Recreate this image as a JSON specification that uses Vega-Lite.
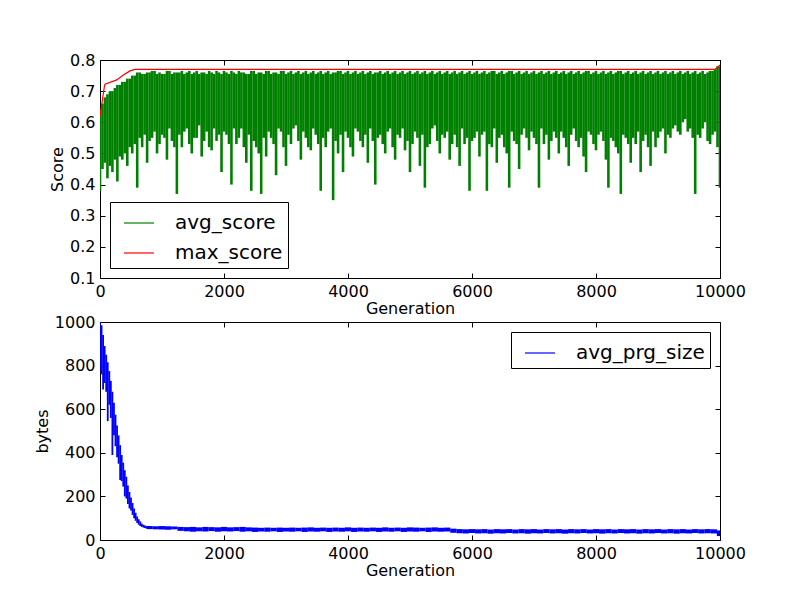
{
  "$schema": "https://vega.github.io/schema/vega-lite/v6.json",
  "background": "white",
  "padding": {"left": 33, "top": 51, "right": 60, "bottom": 10},
  "bounds": "flush",
  "spacing": 44,
  "datasets": {
    "score": [
      {"gen":0,"lo":0.38,"hi":0.64},{"gen":40,"lo":0.45,"hi":0.66},{"gen":80,"lo":0.47,"hi":0.68},{"gen":120,"lo":0.42,"hi":0.69},{"gen":160,"lo":0.46,"hi":0.7},{"gen":200,"lo":0.44,"hi":0.7},{"gen":240,"lo":0.48,"hi":0.71},{"gen":280,"lo":0.41,"hi":0.72},{"gen":320,"lo":0.49,"hi":0.72},{"gen":360,"lo":0.48,"hi":0.73},
      {"gen":400,"lo":0.5,"hi":0.73},{"gen":440,"lo":0.46,"hi":0.74},{"gen":480,"lo":0.52,"hi":0.74},{"gen":520,"lo":0.5,"hi":0.75},{"gen":560,"lo":0.53,"hi":0.75},{"gen":600,"lo":0.39,"hi":0.76},{"gen":640,"lo":0.55,"hi":0.76},{"gen":680,"lo":0.52,"hi":0.755},{"gen":720,"lo":0.56,"hi":0.755},{"gen":760,"lo":0.47,"hi":0.76},
      {"gen":800,"lo":0.54,"hi":0.76},{"gen":840,"lo":0.55,"hi":0.765},{"gen":880,"lo":0.57,"hi":0.765},{"gen":920,"lo":0.5,"hi":0.755},{"gen":960,"lo":0.53,"hi":0.76},{"gen":1000,"lo":0.56,"hi":0.755},{"gen":1040,"lo":0.55,"hi":0.755},{"gen":1080,"lo":0.48,"hi":0.765},{"gen":1120,"lo":0.58,"hi":0.765},{"gen":1160,"lo":0.54,"hi":0.755},
      {"gen":1200,"lo":0.52,"hi":0.76},{"gen":1240,"lo":0.37,"hi":0.76},{"gen":1280,"lo":0.56,"hi":0.76},{"gen":1320,"lo":0.52,"hi":0.765},{"gen":1360,"lo":0.57,"hi":0.755},{"gen":1400,"lo":0.58,"hi":0.76},{"gen":1440,"lo":0.53,"hi":0.765},{"gen":1480,"lo":0.5,"hi":0.755},{"gen":1520,"lo":0.55,"hi":0.76},{"gen":1560,"lo":0.55,"hi":0.765},
      {"gen":1600,"lo":0.59,"hi":0.755},{"gen":1640,"lo":0.49,"hi":0.76},{"gen":1680,"lo":0.54,"hi":0.76},{"gen":1720,"lo":0.57,"hi":0.755},{"gen":1760,"lo":0.52,"hi":0.765},{"gen":1800,"lo":0.51,"hi":0.76},{"gen":1840,"lo":0.58,"hi":0.755},{"gen":1880,"lo":0.54,"hi":0.765},{"gen":1920,"lo":0.56,"hi":0.76},{"gen":1960,"lo":0.44,"hi":0.755},
      {"gen":2000,"lo":0.57,"hi":0.765},{"gen":2040,"lo":0.56,"hi":0.76},{"gen":2080,"lo":0.53,"hi":0.755},{"gen":2120,"lo":0.4,"hi":0.765},{"gen":2160,"lo":0.58,"hi":0.76},{"gen":2200,"lo":0.53,"hi":0.755},{"gen":2240,"lo":0.55,"hi":0.765},{"gen":2280,"lo":0.58,"hi":0.76},{"gen":2320,"lo":0.52,"hi":0.76},{"gen":2360,"lo":0.47,"hi":0.755},
      {"gen":2400,"lo":0.56,"hi":0.755},{"gen":2440,"lo":0.38,"hi":0.765},{"gen":2480,"lo":0.54,"hi":0.765},{"gen":2520,"lo":0.52,"hi":0.755},{"gen":2560,"lo":0.5,"hi":0.76},{"gen":2600,"lo":0.37,"hi":0.76},{"gen":2640,"lo":0.55,"hi":0.755},{"gen":2680,"lo":0.49,"hi":0.765},{"gen":2720,"lo":0.57,"hi":0.765},{"gen":2760,"lo":0.55,"hi":0.755},
      {"gen":2800,"lo":0.53,"hi":0.76},{"gen":2840,"lo":0.43,"hi":0.76},{"gen":2880,"lo":0.58,"hi":0.755},{"gen":2920,"lo":0.57,"hi":0.765},{"gen":2960,"lo":0.52,"hi":0.765},{"gen":3000,"lo":0.46,"hi":0.755},{"gen":3040,"lo":0.56,"hi":0.76},{"gen":3080,"lo":0.53,"hi":0.765},{"gen":3120,"lo":0.58,"hi":0.755},{"gen":3160,"lo":0.59,"hi":0.76},
      {"gen":3200,"lo":0.54,"hi":0.765},{"gen":3240,"lo":0.48,"hi":0.755},{"gen":3280,"lo":0.57,"hi":0.76},{"gen":3320,"lo":0.55,"hi":0.765},{"gen":3360,"lo":0.52,"hi":0.755},{"gen":3400,"lo":0.51,"hi":0.76},{"gen":3440,"lo":0.58,"hi":0.765},{"gen":3480,"lo":0.56,"hi":0.755},{"gen":3520,"lo":0.53,"hi":0.76},{"gen":3560,"lo":0.38,"hi":0.765},
      {"gen":3600,"lo":0.55,"hi":0.755},{"gen":3640,"lo":0.52,"hi":0.76},{"gen":3680,"lo":0.57,"hi":0.765},{"gen":3720,"lo":0.58,"hi":0.755},{"gen":3760,"lo":0.35,"hi":0.76},{"gen":3800,"lo":0.54,"hi":0.76},{"gen":3840,"lo":0.5,"hi":0.765},{"gen":3880,"lo":0.56,"hi":0.765},{"gen":3920,"lo":0.44,"hi":0.755},{"gen":3960,"lo":0.57,"hi":0.76},
      {"gen":4000,"lo":0.55,"hi":0.765},{"gen":4040,"lo":0.52,"hi":0.755},{"gen":4080,"lo":0.49,"hi":0.76},{"gen":4120,"lo":0.58,"hi":0.765},{"gen":4160,"lo":0.57,"hi":0.755},{"gen":4200,"lo":0.54,"hi":0.76},{"gen":4240,"lo":0.52,"hi":0.765},{"gen":4280,"lo":0.56,"hi":0.755},{"gen":4320,"lo":0.47,"hi":0.76},{"gen":4360,"lo":0.58,"hi":0.765},
      {"gen":4400,"lo":0.54,"hi":0.755},{"gen":4440,"lo":0.4,"hi":0.76},{"gen":4480,"lo":0.55,"hi":0.76},{"gen":4520,"lo":0.56,"hi":0.765},{"gen":4560,"lo":0.53,"hi":0.755},{"gen":4600,"lo":0.5,"hi":0.76},{"gen":4640,"lo":0.57,"hi":0.765},{"gen":4680,"lo":0.58,"hi":0.755},{"gen":4720,"lo":0.52,"hi":0.76},{"gen":4760,"lo":0.48,"hi":0.765},
      {"gen":4800,"lo":0.56,"hi":0.755},{"gen":4840,"lo":0.55,"hi":0.76},{"gen":4880,"lo":0.58,"hi":0.765},{"gen":4920,"lo":0.51,"hi":0.755},{"gen":4960,"lo":0.54,"hi":0.76},{"gen":5000,"lo":0.44,"hi":0.765},{"gen":5040,"lo":0.53,"hi":0.755},{"gen":5080,"lo":0.57,"hi":0.76},{"gen":5120,"lo":0.55,"hi":0.765},{"gen":5160,"lo":0.46,"hi":0.755},
      {"gen":5200,"lo":0.56,"hi":0.76},{"gen":5240,"lo":0.39,"hi":0.765},{"gen":5280,"lo":0.52,"hi":0.755},{"gen":5320,"lo":0.53,"hi":0.76},{"gen":5360,"lo":0.58,"hi":0.765},{"gen":5400,"lo":0.59,"hi":0.755},{"gen":5440,"lo":0.54,"hi":0.76},{"gen":5480,"lo":0.5,"hi":0.765},{"gen":5520,"lo":0.56,"hi":0.755},{"gen":5560,"lo":0.55,"hi":0.76},
      {"gen":5600,"lo":0.57,"hi":0.765},{"gen":5640,"lo":0.48,"hi":0.755},{"gen":5680,"lo":0.53,"hi":0.76},{"gen":5720,"lo":0.56,"hi":0.765},{"gen":5760,"lo":0.52,"hi":0.755},{"gen":5800,"lo":0.46,"hi":0.76},{"gen":5840,"lo":0.58,"hi":0.765},{"gen":5880,"lo":0.53,"hi":0.755},{"gen":5920,"lo":0.55,"hi":0.76},{"gen":5960,"lo":0.38,"hi":0.765},
      {"gen":6000,"lo":0.54,"hi":0.755},{"gen":6040,"lo":0.55,"hi":0.76},{"gen":6080,"lo":0.57,"hi":0.765},{"gen":6120,"lo":0.49,"hi":0.755},{"gen":6160,"lo":0.56,"hi":0.76},{"gen":6200,"lo":0.57,"hi":0.765},{"gen":6240,"lo":0.38,"hi":0.755},{"gen":6280,"lo":0.53,"hi":0.76},{"gen":6320,"lo":0.52,"hi":0.765},{"gen":6360,"lo":0.58,"hi":0.765},
      {"gen":6400,"lo":0.47,"hi":0.755},{"gen":6440,"lo":0.55,"hi":0.76},{"gen":6480,"lo":0.56,"hi":0.765},{"gen":6520,"lo":0.52,"hi":0.755},{"gen":6560,"lo":0.5,"hi":0.76},{"gen":6600,"lo":0.39,"hi":0.765},{"gen":6640,"lo":0.57,"hi":0.765},{"gen":6680,"lo":0.54,"hi":0.755},{"gen":6720,"lo":0.53,"hi":0.76},{"gen":6760,"lo":0.45,"hi":0.765},
      {"gen":6800,"lo":0.56,"hi":0.755},{"gen":6840,"lo":0.58,"hi":0.76},{"gen":6880,"lo":0.55,"hi":0.765},{"gen":6920,"lo":0.51,"hi":0.755},{"gen":6960,"lo":0.57,"hi":0.76},{"gen":7000,"lo":0.55,"hi":0.765},{"gen":7040,"lo":0.53,"hi":0.755},{"gen":7080,"lo":0.39,"hi":0.76},{"gen":7120,"lo":0.58,"hi":0.765},{"gen":7160,"lo":0.53,"hi":0.755},
      {"gen":7200,"lo":0.56,"hi":0.76},{"gen":7240,"lo":0.48,"hi":0.765},{"gen":7280,"lo":0.54,"hi":0.755},{"gen":7320,"lo":0.57,"hi":0.76},{"gen":7360,"lo":0.55,"hi":0.765},{"gen":7400,"lo":0.5,"hi":0.755},{"gen":7440,"lo":0.57,"hi":0.76},{"gen":7480,"lo":0.55,"hi":0.765},{"gen":7520,"lo":0.52,"hi":0.755},{"gen":7560,"lo":0.46,"hi":0.76},
      {"gen":7600,"lo":0.56,"hi":0.765},{"gen":7640,"lo":0.58,"hi":0.755},{"gen":7680,"lo":0.54,"hi":0.76},{"gen":7720,"lo":0.52,"hi":0.765},{"gen":7760,"lo":0.55,"hi":0.755},{"gen":7800,"lo":0.49,"hi":0.76},{"gen":7840,"lo":0.44,"hi":0.765},{"gen":7880,"lo":0.57,"hi":0.765},{"gen":7920,"lo":0.56,"hi":0.755},{"gen":7960,"lo":0.53,"hi":0.76},
      {"gen":8000,"lo":0.51,"hi":0.765},{"gen":8040,"lo":0.56,"hi":0.755},{"gen":8080,"lo":0.57,"hi":0.76},{"gen":8120,"lo":0.54,"hi":0.765},{"gen":8160,"lo":0.48,"hi":0.755},{"gen":8200,"lo":0.39,"hi":0.76},{"gen":8240,"lo":0.55,"hi":0.765},{"gen":8280,"lo":0.54,"hi":0.755},{"gen":8320,"lo":0.52,"hi":0.76},{"gen":8360,"lo":0.5,"hi":0.765},
      {"gen":8400,"lo":0.37,"hi":0.765},{"gen":8440,"lo":0.56,"hi":0.755},{"gen":8480,"lo":0.55,"hi":0.76},{"gen":8520,"lo":0.53,"hi":0.765},{"gen":8560,"lo":0.47,"hi":0.755},{"gen":8600,"lo":0.55,"hi":0.76},{"gen":8640,"lo":0.53,"hi":0.765},{"gen":8680,"lo":0.57,"hi":0.755},{"gen":8720,"lo":0.44,"hi":0.76},{"gen":8760,"lo":0.54,"hi":0.765},
      {"gen":8800,"lo":0.56,"hi":0.755},{"gen":8840,"lo":0.52,"hi":0.76},{"gen":8880,"lo":0.46,"hi":0.765},{"gen":8920,"lo":0.57,"hi":0.755},{"gen":8960,"lo":0.52,"hi":0.76},{"gen":9000,"lo":0.55,"hi":0.765},{"gen":9040,"lo":0.57,"hi":0.755},{"gen":9080,"lo":0.58,"hi":0.76},{"gen":9120,"lo":0.5,"hi":0.765},{"gen":9160,"lo":0.56,"hi":0.755},
      {"gen":9200,"lo":0.55,"hi":0.76},{"gen":9240,"lo":0.58,"hi":0.765},{"gen":9280,"lo":0.59,"hi":0.755},{"gen":9320,"lo":0.57,"hi":0.76},{"gen":9360,"lo":0.56,"hi":0.765},{"gen":9400,"lo":0.6,"hi":0.755},{"gen":9440,"lo":0.61,"hi":0.76},{"gen":9480,"lo":0.57,"hi":0.765},{"gen":9520,"lo":0.58,"hi":0.755},{"gen":9560,"lo":0.55,"hi":0.76},
      {"gen":9600,"lo":0.37,"hi":0.765},{"gen":9640,"lo":0.56,"hi":0.755},{"gen":9680,"lo":0.55,"hi":0.76},{"gen":9720,"lo":0.58,"hi":0.765},{"gen":9760,"lo":0.6,"hi":0.755},{"gen":9800,"lo":0.54,"hi":0.76},{"gen":9840,"lo":0.53,"hi":0.765},{"gen":9880,"lo":0.56,"hi":0.765},{"gen":9920,"lo":0.57,"hi":0.77},{"gen":9960,"lo":0.52,"hi":0.78},
      {"gen":10000,"lo":0.39,"hi":0.78}
    ],
    "best": [
      {"gen":0,"max_score":0.62},{"gen":30,"max_score":0.66},{"gen":70,"max_score":0.714},{"gen":80,"max_score":0.722},{"gen":270,"max_score":0.736},
      {"gen":376,"max_score":0.752},{"gen":484,"max_score":0.765},{"gen":565,"max_score":0.77},{"gen":9920,"max_score":0.77},{"gen":9960,"max_score":0.776},{"gen":10000,"max_score":0.784}
    ],
    "prg": [
      {"gen":0,"lo":780,"hi":1000},{"gen":25,"lo":760,"hi":985},{"gen":50,"lo":690,"hi":940},{"gen":75,"lo":720,"hi":890},{"gen":100,"lo":680,"hi":850},{"gen":125,"lo":545,"hi":815},{"gen":150,"lo":620,"hi":775},{"gen":175,"lo":560,"hi":730},
      {"gen":200,"lo":390,"hi":680},{"gen":225,"lo":480,"hi":630},{"gen":250,"lo":430,"hi":575},{"gen":275,"lo":380,"hi":525},{"gen":300,"lo":350,"hi":480},{"gen":325,"lo":275,"hi":435},{"gen":350,"lo":270,"hi":390},{"gen":375,"lo":245,"hi":355},
      {"gen":400,"lo":200,"hi":320},{"gen":425,"lo":190,"hi":290},{"gen":450,"lo":165,"hi":250},{"gen":475,"lo":145,"hi":220},{"gen":500,"lo":135,"hi":195},{"gen":525,"lo":115,"hi":170},{"gen":550,"lo":100,"hi":145},{"gen":575,"lo":88,"hi":125},
      {"gen":600,"lo":78,"hi":108},{"gen":625,"lo":70,"hi":95},{"gen":650,"lo":64,"hi":85},{"gen":675,"lo":60,"hi":75},{"gen":700,"lo":57,"hi":70},{"gen":725,"lo":55,"hi":66},{"gen":750,"lo":53,"hi":64},{"gen":775,"lo":52,"hi":63},
      {"gen":800,"lo":50,"hi":64},{"gen":900,"lo":49,"hi":63},{"gen":1000,"lo":48,"hi":64},{"gen":1100,"lo":47,"hi":63},{"gen":1200,"lo":49,"hi":62},{"gen":1300,"lo":42,"hi":60},{"gen":1400,"lo":40,"hi":59},{"gen":1500,"lo":38,"hi":60},
      {"gen":1600,"lo":40,"hi":58},{"gen":1700,"lo":39,"hi":60},{"gen":1800,"lo":41,"hi":59},{"gen":1900,"lo":38,"hi":58},{"gen":2000,"lo":40,"hi":60},{"gen":2100,"lo":39,"hi":58},{"gen":2200,"lo":41,"hi":59},{"gen":2300,"lo":38,"hi":60},
      {"gen":2400,"lo":40,"hi":58},{"gen":2500,"lo":37,"hi":57},{"gen":2600,"lo":39,"hi":56},{"gen":2700,"lo":38,"hi":57},{"gen":2800,"lo":40,"hi":56},{"gen":2900,"lo":37,"hi":57},{"gen":3000,"lo":39,"hi":56},{"gen":3100,"lo":38,"hi":57},
      {"gen":3200,"lo":40,"hi":56},{"gen":3300,"lo":37,"hi":57},{"gen":3400,"lo":39,"hi":58},{"gen":3500,"lo":38,"hi":56},{"gen":3600,"lo":40,"hi":57},{"gen":3700,"lo":37,"hi":56},{"gen":3800,"lo":39,"hi":57},{"gen":3900,"lo":38,"hi":56},
      {"gen":4000,"lo":40,"hi":58},{"gen":4100,"lo":37,"hi":56},{"gen":4200,"lo":39,"hi":57},{"gen":4300,"lo":38,"hi":56},{"gen":4400,"lo":40,"hi":57},{"gen":4500,"lo":37,"hi":56},{"gen":4600,"lo":39,"hi":58},{"gen":4700,"lo":38,"hi":56},
      {"gen":4800,"lo":40,"hi":57},{"gen":4900,"lo":37,"hi":56},{"gen":5000,"lo":39,"hi":58},{"gen":5100,"lo":38,"hi":57},{"gen":5200,"lo":40,"hi":56},{"gen":5300,"lo":37,"hi":57},{"gen":5400,"lo":39,"hi":58},{"gen":5500,"lo":38,"hi":56},
      {"gen":5600,"lo":39,"hi":57},{"gen":5700,"lo":33,"hi":52},{"gen":5800,"lo":31,"hi":50},{"gen":5900,"lo":30,"hi":49},{"gen":6000,"lo":32,"hi":50},{"gen":6100,"lo":30,"hi":49},{"gen":6200,"lo":31,"hi":50},{"gen":6300,"lo":29,"hi":48},
      {"gen":6400,"lo":31,"hi":50},{"gen":6500,"lo":30,"hi":49},{"gen":6600,"lo":32,"hi":50},{"gen":6700,"lo":30,"hi":48},{"gen":6800,"lo":31,"hi":50},{"gen":6900,"lo":29,"hi":49},{"gen":7000,"lo":31,"hi":50},{"gen":7100,"lo":30,"hi":48},
      {"gen":7200,"lo":32,"hi":50},{"gen":7300,"lo":30,"hi":49},{"gen":7400,"lo":31,"hi":50},{"gen":7500,"lo":29,"hi":48},{"gen":7600,"lo":31,"hi":50},{"gen":7700,"lo":30,"hi":49},{"gen":7800,"lo":32,"hi":50},{"gen":7900,"lo":30,"hi":48},
      {"gen":8000,"lo":31,"hi":50},{"gen":8100,"lo":29,"hi":49},{"gen":8200,"lo":31,"hi":50},{"gen":8300,"lo":30,"hi":48},{"gen":8400,"lo":32,"hi":50},{"gen":8500,"lo":30,"hi":49},{"gen":8600,"lo":31,"hi":50},{"gen":8700,"lo":29,"hi":48},
      {"gen":8800,"lo":31,"hi":50},{"gen":8900,"lo":30,"hi":49},{"gen":9000,"lo":32,"hi":50},{"gen":9100,"lo":30,"hi":48},{"gen":9200,"lo":31,"hi":50},{"gen":9300,"lo":29,"hi":49},{"gen":9400,"lo":31,"hi":50},{"gen":9500,"lo":30,"hi":48},
      {"gen":9600,"lo":32,"hi":50},{"gen":9700,"lo":30,"hi":49},{"gen":9800,"lo":31,"hi":50},{"gen":9900,"lo":30,"hi":49},{"gen":10000,"lo":18,"hi":44}
    ]
  },
  "vconcat": [
    {
      "width": 620,
      "height": 218,
      "layer": [
        {
          "data": {"name": "score"},
          "mark": {"type": "rule", "strokeWidth": 2.6, "clip": true},
          "encoding": {
            "x": {"field": "gen", "type": "quantitative", "scale": {"domain": [0, 10000], "nice": false},
              "axis": {"orient": "bottom", "title": "Generation", "titlePadding": 1, "format": "d", "values": [0, 2000, 4000, 6000, 8000, 10000]}},
            "y": {"field": "lo", "type": "quantitative", "scale": {"domain": [0.1, 0.8], "nice": false, "zero": false},
              "axis": {"orient": "left", "title": "Score", "format": ".1f", "values": [0.1, 0.2, 0.3, 0.4, 0.5, 0.6, 0.7, 0.8]}},
            "y2": {"field": "hi"},
            "color": {"datum": "avg_score", "type": "nominal",
              "scale": {"domain": ["avg_score", "max_score"], "range": ["#008000", "#ff0000"]},
              "legend": {"title": null, "orient": "bottom-left", "offset": 10}}
          }
        },
        {
          "data": {"name": "best"},
          "mark": {"type": "line", "strokeWidth": 1.2, "clip": true},
          "encoding": {
            "x": {"field": "gen", "type": "quantitative",
              "axis": {"orient": "top", "title": null, "labels": false, "values": [0, 2000, 4000, 6000, 8000, 10000]}},
            "y": {"field": "max_score", "type": "quantitative",
              "axis": {"orient": "right", "title": null, "labels": false, "values": [0.1, 0.2, 0.3, 0.4, 0.5, 0.6, 0.7, 0.8]}},
            "color": {"datum": "max_score", "type": "nominal"}
          }
        }
      ],
      "resolve": {"axis": {"x": "independent", "y": "independent"}}
    },
    {
      "width": 620,
      "height": 218,
      "layer": [
        {
          "data": {"name": "prg"},
          "transform": [{"filter": "datum.gen <= 800"}],
          "mark": {"type": "rule", "strokeWidth": 1.8, "clip": true},
          "encoding": {
            "x": {"field": "gen", "type": "quantitative", "scale": {"domain": [0, 10000], "nice": false},
              "axis": {"orient": "bottom", "title": "Generation", "titlePadding": 1, "format": "d", "values": [0, 2000, 4000, 6000, 8000, 10000]}},
            "y": {"field": "lo", "type": "quantitative", "scale": {"domain": [0, 1000], "nice": false},
              "axis": {"orient": "left", "title": "bytes", "format": "d", "values": [0, 200, 400, 600, 800, 1000]}},
            "y2": {"field": "hi"},
            "color": {"datum": "avg_prg_size", "type": "nominal",
              "scale": {"domain": ["avg_prg_size"], "range": ["#0000ff"]},
              "legend": {"title": null, "orient": "top-right", "offset": 10}}
          }
        },
        {
          "data": {"name": "prg"},
          "transform": [{"filter": "datum.gen >= 800"}],
          "mark": {"type": "rule", "strokeWidth": 6.3, "clip": true},
          "encoding": {
            "x": {"field": "gen", "type": "quantitative",
              "axis": {"orient": "top", "title": null, "labels": false, "values": [0, 2000, 4000, 6000, 8000, 10000]}},
            "y": {"field": "lo", "type": "quantitative",
              "axis": {"orient": "right", "title": null, "labels": false, "values": [0, 200, 400, 600, 800, 1000]}},
            "y2": {"field": "hi"},
            "color": {"datum": "avg_prg_size", "type": "nominal"}
          }
        }
      ],
      "resolve": {"axis": {"x": "independent", "y": "independent"}}
    }
  ],
  "resolve": {"scale": {"color": "independent"}},
  "config": {
    "font": "DejaVu Sans",
    "view": {"stroke": "black", "strokeWidth": 1},
    "axis": {
      "grid": false,
      "domain": false,
      "tickColor": "black",
      "tickSize": -5,
      "tickWidth": 1,
      "labelPadding": 10,
      "labelFont": "DejaVu Sans",
      "labelFontSize": 16,
      "labelColor": "black",
      "labelFlush": false,
      "labelOverlap": false,
      "titleFont": "DejaVu Sans",
      "titleFontSize": 16,
      "titleFontWeight": "normal",
      "titleColor": "black",
      "titlePadding": 4
    },
    "legend": {
      "strokeColor": "black",
      "fillColor": "white",
      "padding": 5,
      "cornerRadius": 0,
      "symbolType": "stroke",
      "symbolSize": 900,
      "symbolStrokeWidth": 1.2,
      "symbolOffset": 8,
      "labelOffset": 20,
      "labelFont": "DejaVu Sans",
      "labelFontSize": 20,
      "labelColor": "black",
      "rowPadding": 4
    }
  }
}
